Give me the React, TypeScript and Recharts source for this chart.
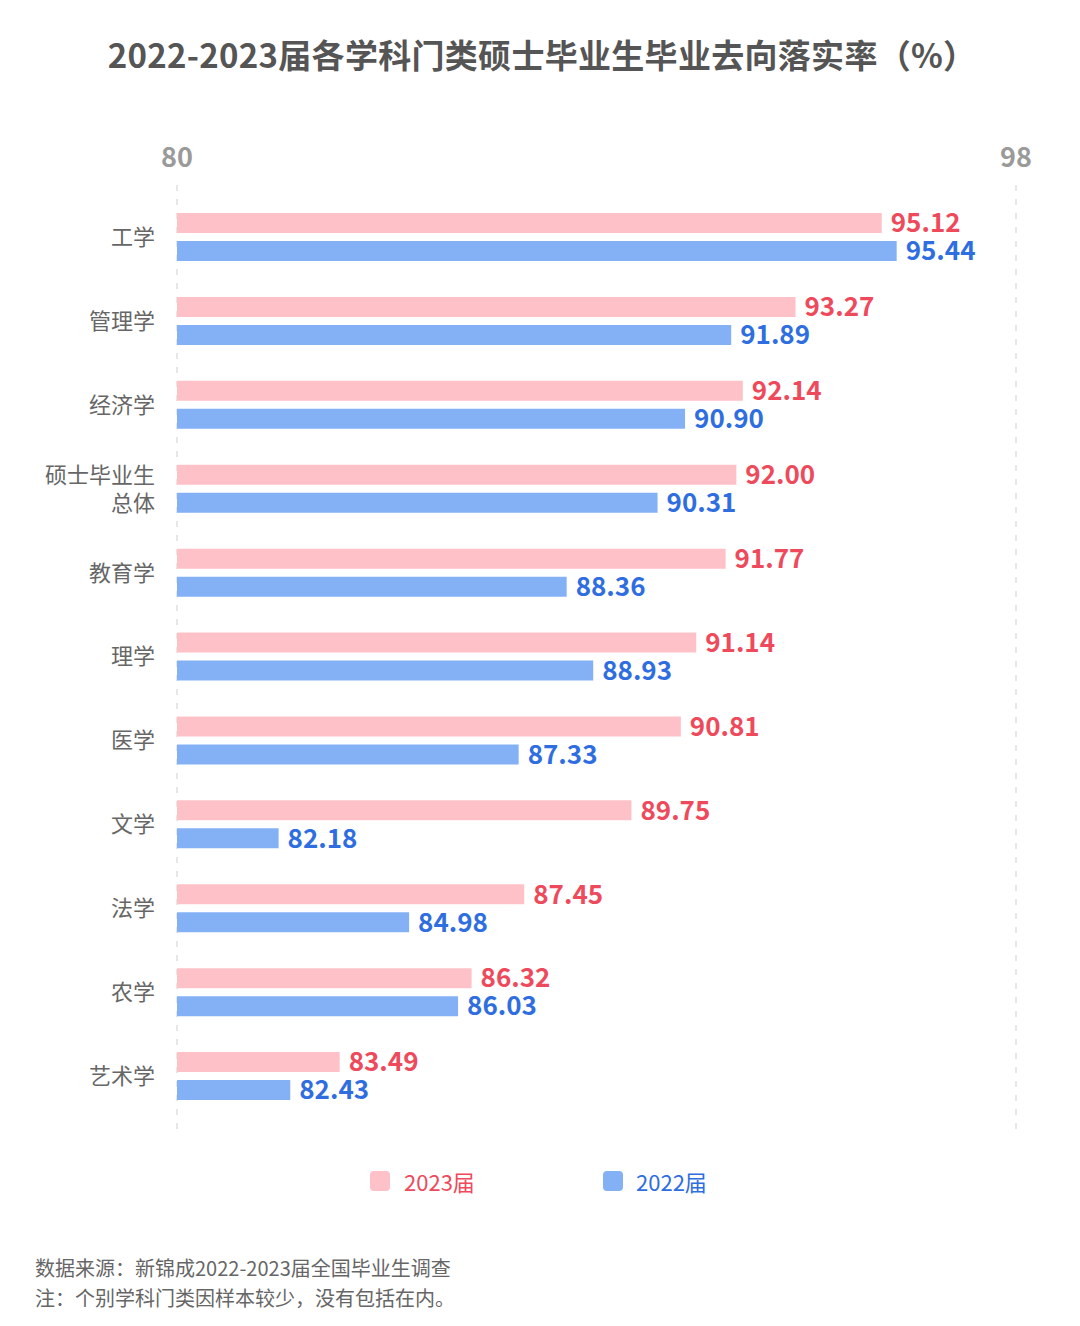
import React from 'react';
import { BarChart, Bar, XAxis, YAxis, CartesianGrid, LabelList } from 'recharts';

const categories = ['工学', '管理学', '经济学', '硕士毕业生\n总体', '教育学', '理学', '医学', '文学', '法学', '农学', '艺术学'];
const values2023 = [95.12, 93.27, 92.14, 92.0, 91.77, 91.14, 90.81, 89.75, 87.45, 86.32, 83.49];
const values2022 = [95.44, 91.89, 90.9, 90.31, 88.36, 88.93, 87.33, 82.18, 84.98, 86.03, 82.43];
const axisTicks = [80, 98];
const seriesNames = ['2023届', '2022届'];

const title = '2022-2023届各学科门类硕士毕业生毕业去向落实率（%）';
const notes = ['数据来源：新锦成2022-2023届全国毕业生调查', '注：个别学科门类因样本较少，没有包括在内。'];

const FONT = '"Noto Sans CJK SC", "Noto Sans", sans-serif';
const PINK = '#ffc1c8';
const BLUE = '#84b1f6';
const PINK_TXT = '#ee4a5c';
const BLUE_TXT = '#2f6ee0';

const data = categories.map((c, i) => ({ name: c, v2023: values2023[i], v2022: values2022[i] }));

const XTick = (props: any) => {
  const { x, y, payload } = props;
  return (
    <text x={x} y={y - 10} textAnchor="middle" fill="#9a9a9a" fontSize={27} fontWeight={700} fontFamily={FONT}>
      {payload.value}
    </text>
  );
};

const YTick = (props: any) => {
  const { x, y, payload } = props;
  const lines = String(payload.value).split('\n');
  const lh = 28;
  const start = y - ((lines.length - 1) * lh) / 2;
  return (
    <text x={x - 14} y={start} textAnchor="end" fill="#666" fontSize={22} fontFamily={FONT}>
      {lines.map((l, i) => (
        <tspan key={i} x={x - 14} y={start + i * lh} dy="0.36em">
          {l}
        </tspan>
      ))}
    </text>
  );
};

const fmt = (v: any) => Number(v).toFixed(2);

export default function App() {
  return (
    <div style={{ position: 'absolute', left: 0, top: 0, width: 1080, height: 1326, background: '#fff', fontFamily: FONT }}>
      <div style={{ position: 'absolute', top: 30, left: 0, width: 1084, textAlign: 'center', fontSize: 33, fontWeight: 700, color: '#555', lineHeight: '48px', letterSpacing: 0.3 }}>
        {title}
      </div>
      <div style={{ position: 'absolute', left: 0, top: 0 }}>
        <BarChart
          width={1080}
          height={1230}
          data={data}
          layout="vertical"
          margin={{ top: 145, right: 64, bottom: 98, left: 0 }}
          barSize={20}
          barGap={8}
        >
          <CartesianGrid horizontal={false} vertical={true} stroke="#cfcfcf" strokeDasharray="6 8" />
          <XAxis
            type="number"
            orientation="top"
            domain={[80, 98]}
            ticks={axisTicks}
            allowDataOverflow
            axisLine={false}
            tickLine={false}
            height={40}
            tick={<XTick />}
          />
          <YAxis
            type="category"
            dataKey="name"
            width={177}
            axisLine={false}
            tickLine={false}
            padding={{ top: 10, bottom: 14 }}
            tick={<YTick />}
            interval={0}
          />
          <Bar dataKey="v2023" name={seriesNames[0]} fill={PINK} isAnimationActive={false}>
            <LabelList dataKey="v2023" position="right" offset={9} formatter={fmt} fill={PINK_TXT} fontSize={26} fontWeight={700} fontFamily={FONT} />
          </Bar>
          <Bar dataKey="v2022" name={seriesNames[1]} fill={BLUE} isAnimationActive={false}>
            <LabelList dataKey="v2022" position="right" offset={9} formatter={fmt} fill={BLUE_TXT} fontSize={26} fontWeight={700} fontFamily={FONT} />
          </Bar>
        </BarChart>
      </div>
      <div style={{ position: 'absolute', top: 1168, left: 370, display: 'flex', alignItems: 'center', height: 26 }}>
        <span style={{ width: 20, height: 20, borderRadius: 4, background: PINK, display: 'inline-block' }} />
        <span style={{ marginLeft: 14, fontSize: 22, color: PINK_TXT }}>{seriesNames[0]}</span>
      </div>
      <div style={{ position: 'absolute', top: 1168, left: 603, display: 'flex', alignItems: 'center', height: 26 }}>
        <span style={{ width: 20, height: 20, borderRadius: 4, background: BLUE, display: 'inline-block' }} />
        <span style={{ marginLeft: 13, fontSize: 22, color: BLUE_TXT }}>{seriesNames[1]}</span>
      </div>
      <div style={{ position: 'absolute', top: 1253, left: 35, fontSize: 20, color: '#666', lineHeight: '30px' }}>
        {notes.map((n, i) => (
          <div key={i}>{n}</div>
        ))}
      </div>
    </div>
  );
}
